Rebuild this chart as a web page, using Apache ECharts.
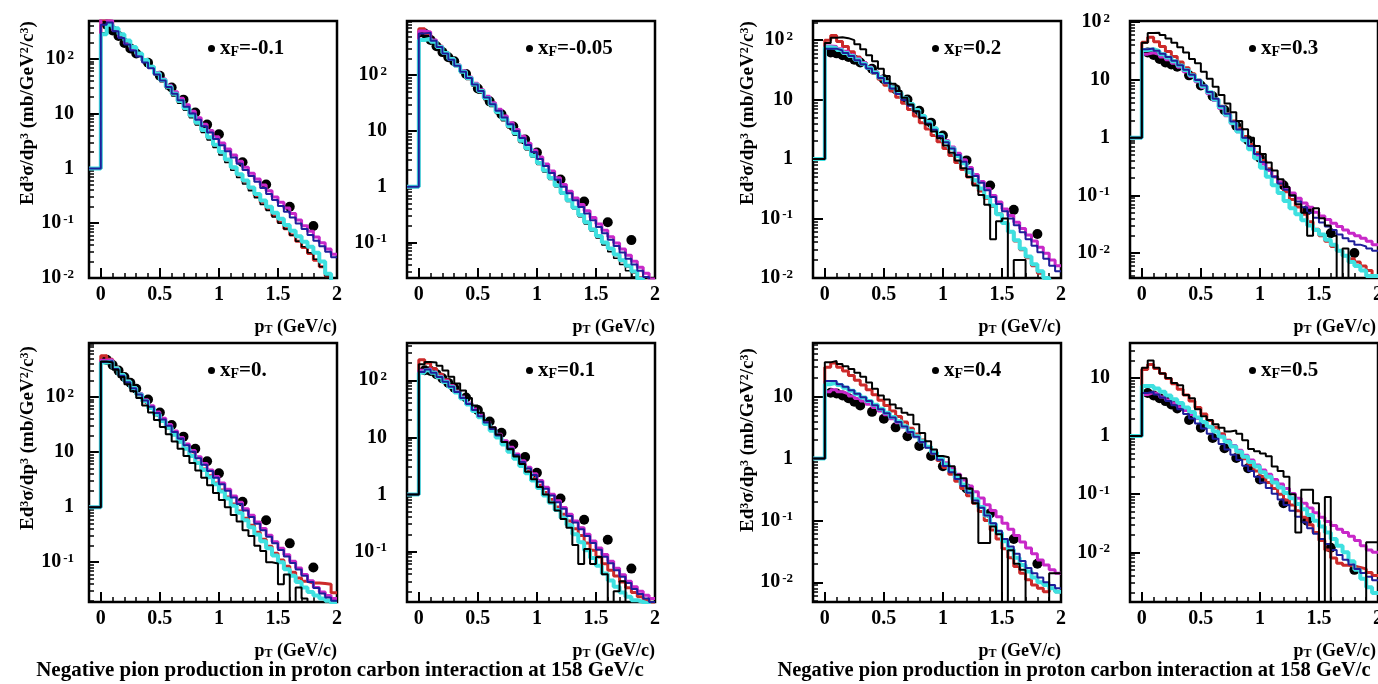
<!DOCTYPE html>
<html><head><meta charset="utf-8">
<script src="https://cdn.jsdelivr.net/npm/echarts@6/dist/echarts.min.js"></script>
<style>html,body{margin:0;padding:0;background:#fff}#c{width:1378px;height:684px}</style>
</head><body><div id="c"></div>
<script>
// ---------- DATA ----------
const binEdges = [0,0.05,0.1,0.15,0.2,0.25,0.3,0.35,0.4,0.45,0.5,0.55,0.6,0.65,0.7,0.75,0.8,0.85,0.9,0.95,1,1.05,1.1,1.15,1.2,1.25,1.3,1.35,1.4,1.45,1.5,1.55,1.6,1.65,1.7,1.75,1.8,1.85,1.9,1.95,2];
const dataPt = [0.05,0.1,0.15,0.2,0.25,0.3,0.4,0.5,0.6,0.7,0.8,0.9,1.0,1.2,1.4,1.6,1.8];
const histBase = 1;
const xFLabels = ['-0.1','-0.05','0.2','0.3','0.','0.1','0.4','0.5'];
const yMin = [0.01, 0.023, 0.01, 0.0037, 0.019, 0.013, 0.0048, 0.0014];
const yMax = [490, 940, 210, 105, 950, 450, 74, 40];
const xTickValues = [0, 0.5, 1, 1.5, 2];
const xTickLabels = ['0', '0.5', '1', '1.5', '2'];
const xMinorTicks = [0.1,0.2,0.3,0.4,0.6,0.7,0.8,0.9,1.1,1.2,1.3,1.4,1.6,1.7,1.8,1.9];
const yExponents = [-3,-2,-1,0,1,2,3];
const caption = 'Negative pion production in proton carbon interaction at 158 GeV/c';

// xF = -0.1
const p1_data    = [420, 330, 260, 195, 155, 125, 85, 49, 30, 18, 10.5, 6.3, 4.2, 1.3, 0.51, 0.2, 0.089];
const p1_magenta = [560, 500, 330, 250, 190, 150, 118, 92, 72, 56, 43, 33, 25, 19, 14.5, 11, 8.4, 6.4, 4.9, 3.8, 2.9, 2.25, 1.75, 1.35, 1.05, 0.82, 0.64, 0.5, 0.39, 0.3, 0.24, 0.19, 0.15, 0.115, 0.09, 0.071, 0.056, 0.044, 0.034, 0.027];
const p1_blue    = [420, 460, 320, 240, 182, 142, 110, 86, 67, 52, 40, 30.5, 23, 17.5, 13.3, 10.1, 7.7, 5.9, 4.5, 3.45, 2.65, 2.05, 1.58, 1.22, 0.94, 0.73, 0.57, 0.44, 0.34, 0.265, 0.207, 0.162, 0.127, 0.099, 0.078, 0.061, 0.048, 0.038, 0.03, 0.024];
const p1_cyan    = [280, 420, 360, 280, 215, 165, 125, 95, 72, 54, 41, 31, 23, 17, 12.5, 9.2, 6.8, 5.0, 3.7, 2.7, 2.0, 1.45, 1.05, 0.78, 0.6, 0.45, 0.34, 0.26, 0.2, 0.155, 0.12, 0.093, 0.073, 0.058, 0.046, 0.037, 0.029, 0.02, 0.012, 0.008];
const p1_red     = [520, 480, 340, 265, 200, 155, 120, 92, 70, 53, 40, 30, 22.5, 16.5, 12.2, 9.0, 6.6, 4.9, 3.6, 2.65, 1.95, 1.42, 1.04, 0.76, 0.57, 0.43, 0.32, 0.24, 0.18, 0.137, 0.104, 0.079, 0.061, 0.047, 0.036, 0.028, 0.021, 0.016, 0.011, 0.008];
const p1_black   = [300, 400, 340, 265, 205, 158, 120, 90, 68, 51, 38, 28.5, 21, 15.5, 11.5, 8.4, 6.2, 4.5, 3.3, 2.4, 1.75, 1.28, 0.93, 0.68, 0.52, 0.39, 0.29, 0.22, 0.17, 0.13, 0.1, 0.078, 0.06, 0.047, 0.037, 0.029, 0.022, 0.016, 0.011, 0.008];

// xF = -0.05
const p2_data    = [560, 430, 330, 260, 210, 178, 105, 58, 34, 20, 12, 7, 4.1, 1.35, 0.54, 0.23, 0.11];
const p2_magenta = [620, 600, 430, 330, 255, 198, 155, 120, 93, 72, 55, 42, 32, 24.5, 18.5, 14, 10.6, 8.0, 6.0, 4.5, 3.4, 2.55, 1.92, 1.45, 1.1, 0.83, 0.63, 0.48, 0.37, 0.28, 0.215, 0.165, 0.127, 0.098, 0.076, 0.059, 0.046, 0.036, 0.028, 0.022];
const p2_blue    = [560, 580, 415, 320, 245, 190, 148, 115, 89, 68, 52, 40, 30, 23, 17.5, 13.2, 10, 7.5, 5.6, 4.2, 3.15, 2.35, 1.77, 1.33, 1.0, 0.76, 0.57, 0.43, 0.33, 0.25, 0.19, 0.146, 0.112, 0.086, 0.066, 0.051, 0.04, 0.031, 0.024, 0.019];
const p2_cyan    = [430, 450, 400, 320, 250, 195, 150, 116, 89, 68, 52, 39, 29.5, 22, 16.5, 12.3, 9.1, 6.7, 4.9, 3.6, 2.65, 1.95, 1.43, 1.05, 0.77, 0.57, 0.42, 0.31, 0.23, 0.17, 0.13, 0.1, 0.078, 0.061, 0.048, 0.038, 0.03, 0.022, 0.015, 0.01];
const p2_red     = [680, 560, 420, 330, 255, 195, 150, 115, 88, 67, 51, 38.5, 29, 21.5, 16, 11.9, 8.8, 6.5, 4.8, 3.55, 2.6, 1.92, 1.41, 1.04, 0.77, 0.57, 0.42, 0.31, 0.23, 0.172, 0.13, 0.1, 0.077, 0.06, 0.047, 0.037, 0.029, 0.023, 0.018, 0.015];
const p2_black   = [500, 480, 390, 310, 240, 185, 143, 110, 84, 64, 48, 36.5, 27.5, 20.5, 15.3, 11.4, 8.4, 6.2, 4.6, 3.4, 2.5, 1.84, 1.35, 1.0, 0.73, 0.54, 0.4, 0.29, 0.215, 0.16, 0.12, 0.09, 0.068, 0.052, 0.04, 0.031, 0.024, 0.019, 0.015, 0.012];

// xF = 0.2
const p3_data    = [62, 60, 56, 52, 47, 42, 33, 22, 15, 10, 6.5, 4.1, 2.5, 0.95, 0.36, 0.14, 0.055];
const p3_magenta = [80, 78, 72, 65, 57, 49, 42, 35.5, 29.5, 24.5, 20, 16.3, 13.1, 10.5, 8.4, 6.7, 5.3, 4.2, 3.3, 2.6, 2.05, 1.6, 1.25, 0.97, 0.72, 0.55, 0.42, 0.32, 0.245, 0.19, 0.145, 0.112, 0.087, 0.068, 0.053, 0.042, 0.033, 0.026, 0.02, 0.016];
const p3_blue    = [72, 72, 67, 61, 54, 46, 39.5, 33.5, 28, 23, 19, 15.4, 12.4, 9.9, 7.9, 6.3, 5.0, 3.95, 3.1, 2.45, 1.92, 1.5, 1.17, 0.9, 0.68, 0.52, 0.4, 0.3, 0.23, 0.175, 0.133, 0.1, 0.077, 0.059, 0.045, 0.035, 0.027, 0.021, 0.016, 0.013];
const p3_cyan    = [76, 74, 68, 61, 54, 47, 40, 34, 28.5, 23.5, 19.5, 16, 13, 10.5, 8.4, 6.7, 5.3, 4.2, 3.3, 2.55, 1.95, 1.5, 1.13, 0.85, 0.6, 0.44, 0.32, 0.23, 0.165, 0.118, 0.084, 0.06, 0.043, 0.031, 0.023, 0.017, 0.013, 0.01, 0.008, 0.006];
const p3_red     = [100, 120, 95, 78, 64, 52, 42, 34, 27.5, 22, 17.5, 14, 11, 8.7, 6.8, 5.3, 4.1, 3.2, 2.5, 1.95, 1.5, 1.15, 0.88, 0.67, 0.5, 0.38, 0.29, 0.22, 0.16, 0.12, 0.085, 0.06, 0.042, 0.03, 0.022, 0.016, 0.012, 0.01, 0.008, 0];
const p3_black   = [90, 110, 112, 108, 100, 85, 70, 56, 44, 33, 25, 18.5, 14, 10.8, 8.3, 6.4, 4.9, 3.8, 2.9, 2.25, 1.7, 1.28, 0.95, 0.7, 0.5, 0.36, 0.25, 0.17, 0.045, 0.09, 0.1, 0, 0.02, 0.02, 0, 0, 0, 0, 0, 0];

// xF = 0.3
const p4_data    = [30, 27, 23, 20, 18.5, 17, 12, 8, 5.2, 3.0, 1.6, 0.9, 0.45, 0.15, 0.055, 0.022, 0.01];
const p4_magenta = [28, 29.5, 27.5, 25, 22.4, 19.5, 16.6, 13.8, 11.5, 9.3, 7.4, 5.75, 4.4, 3.2, 2.4, 1.74, 1.26, 0.91, 0.66, 0.48, 0.35, 0.27, 0.21, 0.17, 0.135, 0.11, 0.089, 0.074, 0.062, 0.051, 0.044, 0.038, 0.033, 0.029, 0.025, 0.022, 0.02, 0.018, 0.016, 0.014];
const p4_blue    = [34, 35, 32, 28.5, 25, 21.5, 18, 15, 12.3, 10, 8, 6.2, 4.7, 3.5, 2.6, 1.9, 1.38, 1.0, 0.72, 0.52, 0.38, 0.28, 0.21, 0.16, 0.125, 0.098, 0.078, 0.062, 0.05, 0.041, 0.034, 0.029, 0.025, 0.021, 0.018, 0.016, 0.014, 0.013, 0.012, 0.011];
const p4_cyan    = [33, 34, 31.5, 28, 24.5, 21, 17.8, 14.8, 12.1, 9.8, 7.8, 6.1, 4.6, 3.4, 2.5, 1.8, 1.28, 0.9, 0.63, 0.44, 0.3, 0.21, 0.15, 0.11, 0.08, 0.06, 0.047, 0.037, 0.03, 0.025, 0.021, 0.017, 0.014, 0.011, 0.009, 0.007, 0.006, 0.005, 0.004, 0.004];
const p4_red     = [45, 55, 46, 38, 31, 25.5, 20.5, 16.3, 12.8, 10, 7.8, 6, 4.6, 3.5, 2.6, 1.95, 1.45, 1.05, 0.76, 0.55, 0.4, 0.29, 0.21, 0.155, 0.115, 0.085, 0.063, 0.047, 0.035, 0.026, 0.02, 0.016, 0.013, 0.011, 0.009, 0.008, 0.007, 0.006, 0.005, 0.004];
const p4_black   = [44, 65, 66, 60, 52, 44, 37, 30, 23, 19.5, 13.8, 10.5, 7.6, 5.5, 3.9, 2.75, 1.95, 1.4, 1.0, 0.72, 0.52, 0.37, 0.27, 0.19, 0.14, 0.1, 0.07, 0.05, 0.02, 0.06, 0.04, 0.03, 0.02, 0, 0.012, 0, 0, 0, 0, 0];

// xF = 0.
const p5_data    = [470, 380, 300, 230, 180, 140, 90, 52, 31, 19, 11.5, 6.8, 4.1, 1.25, 0.58, 0.22, 0.08];
const p5_magenta = [460, 470, 330, 250, 192, 148, 115, 89, 69, 53, 41, 31.5, 24, 18.3, 14, 10.7, 8.2, 6.2, 4.7, 3.6, 2.75, 2.1, 1.6, 1.22, 0.93, 0.71, 0.54, 0.41, 0.31, 0.235, 0.18, 0.137, 0.104, 0.079, 0.06, 0.046, 0.035, 0.029, 0.025, 0.022];
const p5_blue    = [430, 450, 320, 242, 185, 143, 111, 86, 66, 51, 39, 30, 23, 17.5, 13.3, 10.1, 7.7, 5.9, 4.5, 3.4, 2.6, 1.98, 1.5, 1.14, 0.87, 0.66, 0.5, 0.38, 0.29, 0.22, 0.167, 0.127, 0.097, 0.074, 0.057, 0.044, 0.034, 0.027, 0.023, 0.02];
const p5_cyan    = [420, 440, 330, 250, 190, 145, 110, 84, 63, 48, 36.5, 27.5, 20.5, 15.3, 11.4, 8.5, 6.3, 4.7, 3.5, 2.6, 1.93, 1.43, 1.06, 0.79, 0.58, 0.43, 0.32, 0.24, 0.18, 0.133, 0.1, 0.075, 0.057, 0.044, 0.035, 0.029, 0.025, 0.022, 0.02, 0.018];
const p5_red     = [560, 480, 340, 255, 190, 143, 108, 82, 62, 47, 36, 27, 20.5, 15.4, 11.6, 8.7, 6.5, 4.9, 3.7, 2.75, 2.05, 1.53, 1.14, 0.85, 0.63, 0.47, 0.35, 0.26, 0.195, 0.145, 0.11, 0.085, 0.066, 0.052, 0.045, 0.042, 0.042, 0.041, 0.04, 0.028];
const p5_black   = [440, 420, 310, 230, 170, 127, 95, 70, 52, 38, 28.5, 21, 15.5, 11.5, 8.5, 6.3, 4.6, 3.4, 2.5, 1.8, 1.35, 1.0, 0.72, 0.55, 0.38, 0.3, 0.2, 0.16, 0.1, 0.095, 0.04, 0.06, 0, 0.035, 0.022, 0, 0, 0, 0, 0];

// xF = 0.1
const p6_data    = [150, 145, 128, 108, 90, 74, 50, 30, 19, 12, 7.5, 4.5, 2.4, 0.85, 0.36, 0.16, 0.05];
const p6_magenta = [150, 160, 140, 118, 98, 80, 64, 51, 40, 31.5, 24.5, 19, 14.7, 11.3, 8.7, 6.7, 5.1, 3.9, 3.0, 2.3, 1.75, 1.33, 1.01, 0.77, 0.59, 0.45, 0.34, 0.26, 0.2, 0.152, 0.115, 0.088, 0.067, 0.051, 0.039, 0.03, 0.024, 0.02, 0.017, 0.015];
const p6_blue    = [140, 155, 136, 114, 94, 77, 62, 49, 38.5, 30, 23.5, 18.2, 14, 10.8, 8.3, 6.4, 4.9, 3.7, 2.85, 2.18, 1.66, 1.26, 0.96, 0.73, 0.56, 0.42, 0.32, 0.245, 0.186, 0.141, 0.107, 0.081, 0.062, 0.047, 0.036, 0.028, 0.022, 0.018, 0.015, 0.013];
const p6_cyan    = [135, 150, 135, 113, 93, 76, 61, 48, 37.5, 29, 22.5, 17.2, 13.1, 9.9, 7.5, 5.6, 4.2, 3.15, 2.35, 1.75, 1.3, 0.96, 0.71, 0.53, 0.39, 0.29, 0.2, 0.145, 0.105, 0.077, 0.056, 0.041, 0.031, 0.024, 0.019, 0.016, 0.014, 0.013, 0.012, 0.011];
const p6_red     = [230, 200, 160, 128, 102, 81, 64, 50, 39, 30, 23, 17.6, 13.4, 10.2, 7.8, 5.9, 4.5, 3.4, 2.55, 1.92, 1.44, 1.08, 0.81, 0.6, 0.45, 0.34, 0.25, 0.19, 0.14, 0.105, 0.08, 0.061, 0.047, 0.037, 0.029, 0.023, 0.019, 0.016, 0.014, 0.012];
const p6_black   = [190, 210, 205, 180, 148, 115, 88, 66, 49, 36, 27, 20, 15, 11.2, 8.3, 6.2, 4.6, 3.4, 2.5, 1.85, 1.35, 1.0, 0.72, 0.52, 0.37, 0.26, 0.13, 0.06, 0.11, 0.06, 0.08, 0.04, 0, 0.02, 0.03, 0, 0, 0, 0, 0];

// xF = 0.4
const p7_data    = [11.6, 11.3, 10.5, 9.5, 8.3, 7.2, 5.7, 4.4, 3.2, 2.3, 1.6, 1.1, 0.75, 0.33, 0.13, 0.05, 0.02];
const p7_magenta = [12, 13, 12, 11.2, 10.3, 9.4, 8.5, 7.6, 6.7, 5.9, 5.1, 4.4, 3.8, 3.2, 2.7, 2.25, 1.88, 1.55, 1.28, 1.05, 0.86, 0.7, 0.56, 0.45, 0.36, 0.29, 0.23, 0.18, 0.145, 0.115, 0.09, 0.072, 0.057, 0.045, 0.036, 0.029, 0.023, 0.019, 0.016, 0.014];
const p7_blue    = [18, 18, 16, 14.5, 12.8, 11.2, 9.8, 8.5, 7.3, 6.3, 5.4, 4.6, 3.9, 3.3, 2.7, 2.25, 1.85, 1.5, 1.2, 0.96, 0.76, 0.6, 0.47, 0.36, 0.28, 0.21, 0.16, 0.12, 0.09, 0.068, 0.05, 0.038, 0.029, 0.022, 0.017, 0.014, 0.012, 0.01, 0.009, 0.008];
const p7_cyan    = [16, 17, 15.5, 14, 12.5, 11, 9.7, 8.5, 7.4, 6.4, 5.5, 4.7, 4.0, 3.35, 2.8, 2.3, 1.9, 1.55, 1.25, 1.0, 0.8, 0.63, 0.49, 0.38, 0.29, 0.22, 0.165, 0.12, 0.088, 0.064, 0.046, 0.034, 0.025, 0.019, 0.015, 0.012, 0.01, 0.009, 0.008, 0.007];
const p7_red     = [30, 35, 30, 26, 22, 18.5, 15.5, 13, 10.8, 8.8, 7.2, 5.9, 4.8, 3.9, 3.1, 2.5, 2.0, 1.55, 1.2, 0.93, 0.72, 0.56, 0.43, 0.33, 0.25, 0.19, 0.14, 0.1, 0.07, 0.05, 0.035, 0.025, 0.018, 0.014, 0.011, 0.009, 0.008, 0.007, 0.008, 0.007];
const p7_black   = [36, 38, 34, 31, 28, 24.5, 21, 17, 13.5, 10.5, 9, 7.5, 6.5, 5.5, 5.1, 3.6, 2.6, 1.9, 1.4, 1.1, 1.05, 0.75, 0.55, 0.48, 0.33, 0.19, 0.043, 0.043, 0.08, 0.06, 0, 0.033, 0.02, 0.016, 0, 0, 0, 0, 0.014, 0.014];

// xF = 0.5
const p8_data    = [5.5, 5.0, 4.5, 4.0, 3.5, 3.0, 1.9, 1.4, 0.93, 0.62, 0.42, 0.28, 0.18, 0.07, 0.035, 0.012, 0.005];
const p8_magenta = [5.2, 5.6, 5.2, 4.7, 4.2, 3.7, 3.2, 2.75, 2.35, 2.0, 1.7, 1.43, 1.2, 1.0, 0.83, 0.69, 0.57, 0.47, 0.39, 0.32, 0.26, 0.22, 0.18, 0.15, 0.125, 0.103, 0.085, 0.07, 0.058, 0.048, 0.04, 0.034, 0.029, 0.025, 0.022, 0.019, 0.016, 0.013, 0.011, 0.01];
const p8_blue    = [5.5, 5.8, 5.2, 4.6, 4.0, 3.4, 2.9, 2.4, 2.0, 1.65, 1.35, 1.1, 0.9, 0.73, 0.59, 0.48, 0.39, 0.31, 0.25, 0.2, 0.16, 0.128, 0.102, 0.081, 0.065, 0.052, 0.041, 0.033, 0.026, 0.021, 0.017, 0.014, 0.011, 0.009, 0.0075, 0.0062, 0.0052, 0.0044, 0.0038, 0.0033];
const p8_cyan    = [7.3, 7.3, 6.6, 5.8, 5.0, 4.3, 3.7, 3.1, 2.6, 2.1, 1.75, 1.45, 1.2, 0.98, 0.8, 0.66, 0.54, 0.44, 0.36, 0.3, 0.24, 0.2, 0.16, 0.13, 0.105, 0.085, 0.068, 0.055, 0.044, 0.035, 0.028, 0.022, 0.017, 0.013, 0.01, 0.007, 0.005, 0.0035, 0.0025, 0.002];
const p8_red     = [14, 17, 14.5, 12, 9.8, 8, 6.4, 5.1, 4, 3.1, 2.4, 1.85, 1.42, 1.1, 0.85, 0.66, 0.52, 0.41, 0.32, 0.25, 0.2, 0.16, 0.125, 0.1, 0.08, 0.065, 0.052, 0.04, 0.03, 0.022, 0.016, 0.011, 0.008, 0.0065, 0.006, 0.0058, 0.0055, 0.0052, 0.0045, 0.004];
const p8_black   = [15, 20, 15, 12, 10, 8.2, 7.5, 5.1, 4.5, 2.9, 2.2, 1.9, 1.6, 1.4, 1.2, 1.25, 1.1, 0.85, 0.6, 0.55, 0.5, 0.45, 0.3, 0.25, 0.2, 0.1, 0.022, 0.12, 0.12, 0.07, 0, 0.09, 0, 0, 0, 0, 0, 0, 0.015, 0.015];

const panelData = [
  {data:p1_data, magenta:p1_magenta, blue:p1_blue, cyan:p1_cyan, red:p1_red, black:p1_black},
  {data:p2_data, magenta:p2_magenta, blue:p2_blue, cyan:p2_cyan, red:p2_red, black:p2_black},
  {data:p3_data, magenta:p3_magenta, blue:p3_blue, cyan:p3_cyan, red:p3_red, black:p3_black},
  {data:p4_data, magenta:p4_magenta, blue:p4_blue, cyan:p4_cyan, red:p4_red, black:p4_black},
  {data:p5_data, magenta:p5_magenta, blue:p5_blue, cyan:p5_cyan, red:p5_red, black:p5_black},
  {data:p6_data, magenta:p6_magenta, blue:p6_blue, cyan:p6_cyan, red:p6_red, black:p6_black},
  {data:p7_data, magenta:p7_magenta, blue:p7_blue, cyan:p7_cyan, red:p7_red, black:p7_black},
  {data:p8_data, magenta:p8_magenta, blue:p8_blue, cyan:p8_cyan, red:p8_red, black:p8_black}
];

// ---------- LAYOUT / STYLE ----------
const FONT = '"Liberation Serif","Times New Roman","DejaVu Serif",serif';
const X_MIN = -0.1, X_MAX = 2;
const W = 248;
const layout = [
  {left:89,   top:21,  h:257, lm:15, ytitle:{x:28,  y:205}, thinBlack:true},
  {left:407,  top:21,  h:257, lm:20, thinBlack:true},
  {left:813,  top:21,  h:257, lm:20, ytitle:{x:748, y:205}},
  {left:1130, top:21,  h:257, lm:20},
  {left:89,   top:343, h:259, lm:15, ytitle:{x:28,  y:530}},
  {left:407,  top:343, h:259, lm:20},
  {left:813,  top:343, h:259, lm:20, ytitle:{x:748, y:532}},
  {left:1130, top:343, h:259, lm:20}
];
const lineOrder = ['red','magenta','cyan','blue','black'];
const lineOrderThin = ['red','magenta','black','cyan','blue'];
const lineColor = {red:'#cc2a2a', magenta:'#c828c8', cyan:'#3ee0e0', blue:'#1e1e9a', black:'#000000'};
const lineWidth = {red:3, magenta:3, cyan:4, blue:2, black:2};

function histPoints(vals){
  const pts = [[X_MIN, histBase], [binEdges[0], histBase]];
  vals.forEach((v, i) => {
    const y = v > 0 ? v : 1e-9;   // empty bin -> drop below frame
    pts.push([binEdges[i], y]);
    pts.push([binEdges[i + 1], y]);
  });
  return pts;
}

const grids = [], xAxes = [], yAxes = [], series = [], legends = [], graphics = [];

const yLabelRich = {
  b: {fontFamily:FONT, fontWeight:'bold', fontSize:20, lineHeight:20, color:'#000'},
  s: {fontFamily:FONT, fontWeight:'bold', fontSize:13, lineHeight:13, verticalAlign:'top', padding:[0,0,0,2], color:'#000'}
};
function yLabelFmt(v){
  const e = Math.round(v);
  if (e === 0) return '{b|1}';
  if (e === 1) return '{b|10}';
  return '{b|10}{s|' + e + '}';
}

layout.forEach((L, g) => {
  grids.push({left:L.left, top:L.top, width:W, height:L.h, show:true, borderColor:'#000', borderWidth:2.5,
              backgroundColor:'rgba(0,0,0,0)', containLabel:false, outerBoundsMode:'none'});
  xAxes.push({gridIndex:g, type:'value', position:'bottom', min:X_MIN, max:X_MAX,
    axisLine:{show:false, onZero:false}, splitLine:{show:false},
    axisTick:{show:true, inside:true, length:10, customValues:xTickValues, lineStyle:{color:'#000', width:2}},
    axisLabel:{show:true, customValues:xTickValues, margin:7, color:'#000', fontFamily:FONT, fontWeight:'bold', fontSize:20,
      formatter: v => { const k = xTickValues.indexOf(v); return k >= 0 ? xTickLabels[k] : ''; }}});
  xAxes.push({gridIndex:g, type:'value', position:'bottom', min:X_MIN, max:X_MAX,
    axisLine:{show:false, onZero:false}, splitLine:{show:false}, axisLabel:{show:false},
    axisTick:{show:true, inside:true, length:5, customValues:xMinorTicks, lineStyle:{color:'#000', width:1.5}}});
  const lo = Math.log10(yMin[g]), hi = Math.log10(yMax[g]);
  const majors = yExponents.filter(e => e >= lo && e <= hi);
  const minors = [];
  for (let e = Math.floor(lo); e <= Math.ceil(hi); e++) {
    for (let k = 2; k <= 9; k++) { const v = e + Math.log10(k); if (v > lo && v < hi) minors.push(v); }
  }
  yAxes.push({gridIndex:g, type:'log', logBase:10, min:yMin[g], max:yMax[g], show:false,
    axisLine:{onZero:false}, splitLine:{show:false}});
  yAxes.push({gridIndex:g, type:'value', position:'left', min:lo, max:hi,
    axisLine:{show:false, onZero:false}, splitLine:{show:false},
    axisTick:{show:true, inside:true, length:10, customValues:majors, lineStyle:{color:'#000', width:2}},
    axisLabel:{show:true, customValues:majors, margin:L.lm, formatter:yLabelFmt, rich:yLabelRich}});
  yAxes.push({gridIndex:g, type:'value', position:'left', min:lo, max:hi,
    axisLine:{show:false, onZero:false}, splitLine:{show:false}, axisLabel:{show:false},
    axisTick:{show:true, inside:true, length:5, customValues:minors, lineStyle:{color:'#000', width:1.5}}});

  const P = panelData[g];
  const name = 'x_F=' + xFLabels[g];
  series.push({type:'scatter', name:name, xAxisIndex:2*g, yAxisIndex:3*g, symbol:'circle', symbolSize:10,
    itemStyle:{color:'#000', opacity:1}, clip:true, silent:true, z:2,
    data: dataPt.map((x, i) => [x, P.data[i]])});
  (L.thinBlack ? lineOrderThin : lineOrder).forEach((c, k) => {
    const w = (L.thinBlack && c === 'black') ? 1.5 : lineWidth[c];
    series.push({type:'line', name:c + g, xAxisIndex:2*g, yAxisIndex:3*g, data:histPoints(P[c]),
      symbol:'none', showSymbol:false, clip:true, silent:true, z:3 + k,
      lineStyle:{color:lineColor[c], width:w}});
  });
  legends.push({data:[name], left:L.left + 119, top:L.top + 14, icon:'circle', itemWidth:7, itemHeight:7,
    padding:0, selectedMode:false, itemStyle:{opacity:1},
    formatter: () => '{x|x}{f|F}{v|=' + xFLabels[g] + '}',
    textStyle:{rich:{
      x:{fontFamily:FONT, fontWeight:'bold', fontSize:21, lineHeight:21, verticalAlign:'top', color:'#000'},
      f:{fontFamily:FONT, fontWeight:'bold', fontSize:14, lineHeight:14, padding:[10,0,0,0], verticalAlign:'bottom', color:'#000'},
      v:{fontFamily:FONT, fontWeight:'bold', fontSize:21, lineHeight:21, verticalAlign:'top', color:'#000'}}}});

  graphics.push({type:'text', x:Math.min(L.left + W, 1376), y:L.top + L.h + 49, silent:true,
    style:{text:'{p|p}{t|T}{g| (GeV/c)}', align:'right', verticalAlign:'middle',
      rich:{p:{fontFamily:FONT, fontWeight:'bold', fontSize:18, lineHeight:18, verticalAlign:'top', fill:'#000'},
            t:{fontFamily:FONT, fontWeight:'bold', fontSize:12, lineHeight:12, padding:[9,0,0,0], verticalAlign:'bottom', fill:'#000'},
            g:{fontFamily:FONT, fontWeight:'bold', fontSize:18, lineHeight:18, verticalAlign:'top', fill:'#000'}}}});
  if (L.ytitle) {
    graphics.push({type:'text', x:L.ytitle.x, y:L.ytitle.y, rotation:Math.PI/2, silent:true,
      style:{text:'{b|Ed}{s|3}{b|σ/dp}{s|3}{b| (mb/GeV}{s|2}{b|/c}{s|3}{b|)}', align:'left', verticalAlign:'middle',
        rich:{b:{fontFamily:FONT, fontWeight:'bold', fontSize:19, lineHeight:19, padding:[5,0,0,0], verticalAlign:'bottom', fill:'#000'},
              s:{fontFamily:FONT, fontWeight:'bold', fontSize:12, lineHeight:12, verticalAlign:'top', fill:'#000'}}}});
  }
});

[{x:340, size:21}, {x:1074, size:20.5}].forEach(c => {
  graphics.push({type:'text', x:c.x, y:671, silent:true,
    style:{text:caption, align:'center', verticalAlign:'middle', font:'bold ' + c.size + 'px ' + FONT, fill:'#000'}});
});

const chart = echarts.init(document.getElementById('c'), null, {renderer:'canvas', width:1378, height:684});
chart.setOption({
  animation:false,
  backgroundColor:'#ffffff',
  grid:grids, xAxis:xAxes, yAxis:yAxes, series:series, legend:legends, graphic:graphics
});
</script>
</body></html>
